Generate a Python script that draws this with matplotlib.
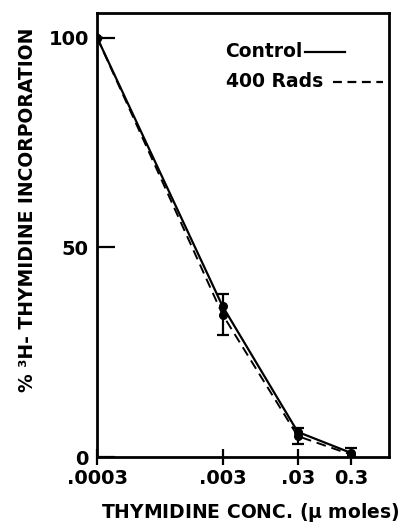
"""Thymidine incorporation vs thymidine concentration (control vs 400 rads)."""

import numpy as np
import matplotlib.pyplot as plt

# data
CONC = [0.0003, 0.003, 0.03, 0.3]
CONTROL = [100, 36, 6, 1]
RADS_400 = [100, 34, 5, 0.6]
RADS_ERR = [0, 5, 2, 1.5]
XTICK_LABELS = [".0003", ".003", ".03", "0.3"]

# the original x axis is not evenly spaced per decade: piecewise log scale
LOG_ANCHORS = [-4.52, -3.523, -2.523, -1.523, -0.523, 0.477]
POS_ANCHORS = [-125, 0, 125, 200, 253, 306]

DASH = (0, (5, 3))


def fwd(x):
    x = np.clip(np.asarray(x, dtype=float), 1e-9, None)
    return np.interp(np.log10(x), LOG_ANCHORS, POS_ANCHORS)


def inv(p):
    return 10 ** np.interp(np.asarray(p, dtype=float), POS_ANCHORS, LOG_ANCHORS)


plt.rcParams["font.family"] = "DejaVu Sans"
plt.rcParams["font.weight"] = "bold"

fig = plt.figure(figsize=(4.12, 5.29), dpi=100)
ax = fig.add_axes([0.236, 0.136, 0.708, 0.840])

ax.set_xscale("function", functions=(fwd, inv))
ax.set_xlim(CONC[0], inv(291))
ax.set_ylim(0, 106)

ax.plot(CONC, CONTROL, color="black", lw=1.6, ls="-", marker="o", ms=5.5)
ax.errorbar(CONC, RADS_400, yerr=RADS_ERR, color="black", lw=1.4, ls=DASH,
            marker="o", ms=5.5, capsize=4.5, elinewidth=1.6, capthick=1.6)

for s in ax.spines.values():
    s.set_linewidth(2)

ax.set_xticks(CONC)
ax.set_xticklabels(XTICK_LABELS)
ax.xaxis.set_minor_locator(plt.NullLocator())
ax.set_yticks([0, 50, 100])
ax.tick_params(axis="x", direction="inout", length=11, width=1.6, labelsize=14, pad=3)
ax.tick_params(axis="y", direction="in", length=13, width=1.6, labelsize=14, pad=6)

ax.set_xlabel("THYMIDINE CONC. ($\\mathbf{\\mu}$ moles)", fontsize=13.5, fontweight="bold")
ax.set_ylabel("% ³H- THYMIDINE INCORPORATION", fontsize=13.5, fontweight="bold")
ax.xaxis.set_label_coords(0.524, -0.1)
ax.yaxis.set_label_coords(-0.205, 0.556)

# legend drawn as text followed by a line sample, as in the original
ax.text(0.438, 0.912, "Control", transform=ax.transAxes, fontsize=13.5,
        fontweight="bold", va="center", ha="left")
ax.plot([0.712, 0.849], [0.912, 0.912], transform=ax.transAxes, color="black", lw=1.6)
ax.text(0.442, 0.845, "400 Rads", transform=ax.transAxes, fontsize=13.5,
        fontweight="bold", va="center", ha="left")
ax.plot([0.808, 0.979], [0.845, 0.845], transform=ax.transAxes, color="black",
        lw=1.6, ls=(0, (4, 2.5)))

fig.savefig("out.png", dpi=100)
